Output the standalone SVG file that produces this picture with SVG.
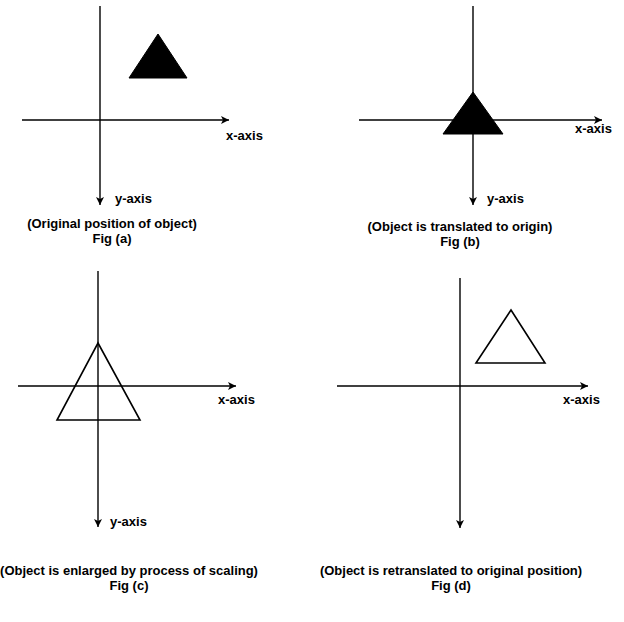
<svg xmlns="http://www.w3.org/2000/svg" width="624" height="622" viewBox="0 0 624 622">
<style>
.ax{stroke:#000;stroke-width:1.4;fill:none;marker-end:url(#ah)}
.tf{fill:#000;stroke:#000;stroke-width:1}
.to{fill:none;stroke:#000;stroke-width:1.6;stroke-linejoin:miter}
text{font-family:"Liberation Sans",Arial,sans-serif;font-size:13px;font-weight:bold;fill:#000}
.c{text-anchor:middle}
</style>
<defs>
<marker id="ah" markerUnits="userSpaceOnUse" markerWidth="10" markerHeight="10" viewBox="0 0 10 10" refX="9" refY="5" orient="auto">
<path d="M1,1 L9,5 L1,9 L3,5 z" fill="#000"/>
</marker>
</defs>
<rect width="624" height="622" fill="#fff"/>
<g id="connectors">
<line class="ax" x1="100" y1="6" x2="100" y2="205"/>
<line class="ax" x1="22" y1="120" x2="229" y2="120"/>
<line class="ax" x1="473" y1="6" x2="473" y2="205"/>
<line class="ax" x1="359" y1="120" x2="602" y2="120"/>
<line class="ax" x1="98" y1="271" x2="98" y2="527"/>
<line class="ax" x1="18" y1="386" x2="236" y2="386"/>
<line class="ax" x1="460" y1="278" x2="460" y2="528"/>
<line class="ax" x1="337" y1="386" x2="588" y2="386"/>
</g>
<g id="fig-a">
<polygon class="tf" points="158,34 187,78 129,78"/>
<text x="226" y="140">x-axis</text>
<text x="115" y="203">y-axis</text>
<text class="c" x="112" y="228">(Original position of object)</text>
<text class="c" x="112" y="243">Fig (a)</text>
</g>
<g id="fig-b">
<polygon class="tf" points="473,92 503,134 443,134"/>
<text x="575" y="133">x-axis</text>
<text x="487" y="203">y-axis</text>
<text class="c" x="460" y="231">(Object is translated to origin)</text>
<text class="c" x="460" y="246">Fig (b)</text>
</g>
<g id="fig-c">
<polygon class="to" points="98,343 140,420 57,420"/>
<text x="218" y="404">x-axis</text>
<text x="110" y="526">y-axis</text>
<text class="c" x="129" y="575">(Object is enlarged by process of scaling)</text>
<text class="c" x="129" y="590">Fig (c)</text>
</g>
<g id="fig-d">
<polygon class="to" points="511,310 545,363 476,363"/>
<text x="563" y="404">x-axis</text>
<text class="c" x="451" y="575">(Object is retranslated to original position)</text>
<text class="c" x="451" y="590">Fig (d)</text>
</g>
</svg>
